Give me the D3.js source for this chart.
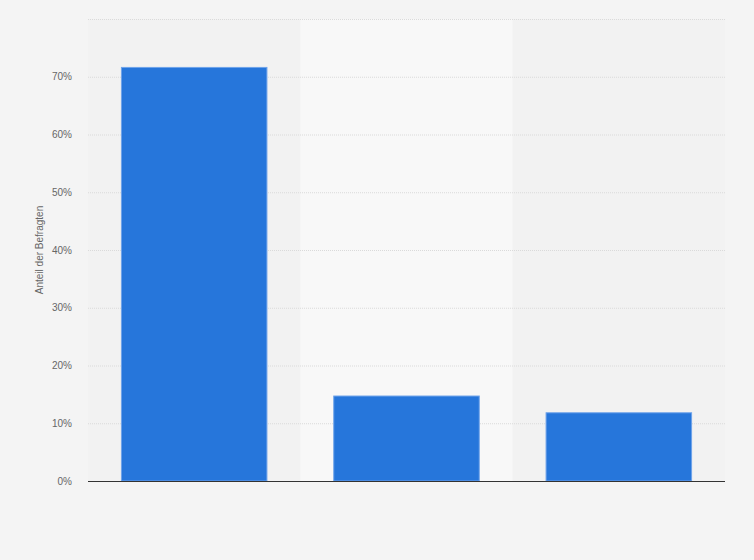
<!DOCTYPE html>
<html>
<head>
<meta charset="utf-8">
<script src="https://cdn.jsdelivr.net/npm/d3@7"></script>
<style>
  html, body { margin: 0; padding: 0; background: #f4f4f4; }
  svg { display: block; font-family: "Liberation Sans", Arial, sans-serif; }
</style>
</head>
<body>
<svg id="chart" width="754" height="560"></svg>
<script>
// Categories have no visible labels in the reference.
const categories = ['A', 'B', 'C'];
const shares = [71.7, 14.8, 11.9];
const yTicks = [0, 10, 20, 30, 40, 50, 60, 70, 80];
const yTickLabels = ['0%', '10%', '20%', '30%', '40%', '50%', '60%', '70%', ''];

const width = 754;
const height = 560;
const margin = {top: 19, right: 29, bottom: 79, left: 88};
const graphWidth = width - margin.left - margin.right;
const graphHeight = height - margin.top - margin.bottom;

const svg = d3.select('#chart');

const chartGroup = svg.append('g')
    .attr('transform', 'translate(' + margin.left + ',' + margin.top + ')');

// Background bands (one per category, middle one lighter).
const bandScale = d3.scaleBand().domain(categories).range([0, graphWidth]);

// Bars: inner padding p with outer padding p/2 keeps step = width / n.
const xScale = d3.scaleBand()
    .domain(categories)
    .range([0, graphWidth])
    .paddingInner(0.31)
    .paddingOuter(0.155);

const yScale = d3.scaleLinear().domain([0, 80]).range([graphHeight, 0]);

chartGroup.selectAll('rect.band')
    .data(categories)
    .join('rect')
    .attr('class', 'band')
    .attr('x', d => bandScale(d))
    .attr('y', 0)
    .attr('width', bandScale.bandwidth())
    .attr('height', graphHeight)
    .attr('fill', (d, i) => i % 2 === 1 ? '#f8f8f8' : '#f2f2f2');

// Horizontal dotted gridlines with labels.
const yAxis = chartGroup.append('g')
    .call(d3.axisLeft(yScale)
        .tickValues(yTicks)
        .tickSize(-graphWidth)
        .tickPadding(16)
        .tickFormat((d, i) => yTickLabels[i]));

yAxis.select('.domain').remove();
yAxis.selectAll('.tick line')
    .attr('stroke', '#dadada')
    .attr('stroke-dasharray', '1,1');
yAxis.selectAll('.tick text')
    .attr('fill', '#666')
    .attr('font-size', '10px');

// Bars.
chartGroup.selectAll('rect.bar')
    .data(shares)
    .join('rect')
    .attr('class', 'bar')
    .attr('x', (d, i) => xScale(categories[i]) + 0.5)
    .attr('y', d => yScale(d) + 0.5)
    .attr('width', xScale.bandwidth() - 1)
    .attr('height', d => graphHeight - yScale(d) - 0.5)
    .attr('fill', '#2676db')
    .attr('stroke', '#6fa3ea')
    .attr('stroke-width', 1);

// Baseline.
chartGroup.append('line')
    .attr('x1', 0)
    .attr('x2', graphWidth)
    .attr('y1', yScale(0) + 0.5)
    .attr('y2', yScale(0) + 0.5)
    .attr('stroke', '#333')
    .attr('stroke-width', 1);

// Y-axis title.
svg.append('text')
    .attr('transform', 'translate(43,' + (margin.top + graphHeight / 2) + ') rotate(-90)')
    .attr('text-anchor', 'middle')
    .attr('fill', '#666')
    .attr('font-size', '10px')
    .text('Anteil der Befragten');
</script>
</body>
</html>
